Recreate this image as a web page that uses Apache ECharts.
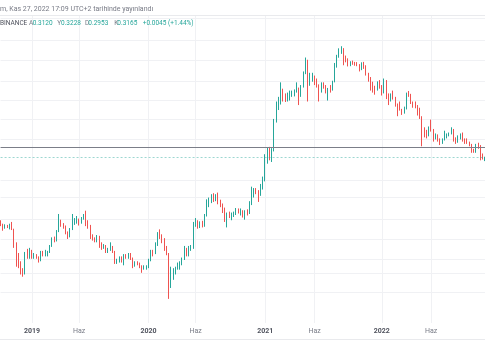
<!DOCTYPE html>
<html><head><meta charset="utf-8">
<script src="https://cdn.jsdelivr.net/npm/echarts/dist/echarts.min.js"></script>
<style>html,body{margin:0;padding:0;background:#fff}#c{width:485px;height:360px}</style>
</head><body><div id="c"></div>
<script>
// Weekly ADA/USDT (Binance) candles, [open, high, low, close], weeks starting Monday
const firstWeek = '2018-10-01';
const ohlc2018 = [
[0.085,0.088,0.078,0.080],[0.080,0.082,0.071,0.076],[0.076,0.081,0.074,0.078],[0.078,0.080,0.075,0.076],
[0.076,0.082,0.073,0.080],[0.080,0.085,0.072,0.073],[0.073,0.074,0.050,0.054],[0.054,0.056,0.034,0.040],
[0.040,0.045,0.033,0.036],[0.036,0.038,0.029,0.031],[0.031,0.033,0.0277,0.030],[0.030,0.046,0.029,0.043],
[0.043,0.049,0.040,0.041],[0.041,0.050,0.040,0.047]
];
const ohlc2019 = [
[0.047,0.048,0.040,0.042],[0.042,0.045,0.040,0.043],[0.043,0.044,0.040,0.041],[0.041,0.042,0.037,0.039],
[0.039,0.047,0.038,0.046],[0.046,0.047,0.042,0.043],[0.043,0.048,0.042,0.044],[0.044,0.047,0.042,0.046],
[0.046,0.053,0.045,0.052],[0.052,0.062,0.051,0.060],[0.060,0.063,0.056,0.058],[0.058,0.072,0.057,0.070],
[0.070,0.100,0.069,0.086],[0.086,0.089,0.077,0.080],[0.080,0.083,0.074,0.077],[0.077,0.079,0.066,0.068],
[0.068,0.070,0.060,0.064],[0.064,0.075,0.062,0.073],[0.073,0.100,0.072,0.085],[0.085,0.092,0.080,0.087],
[0.087,0.096,0.082,0.089],[0.089,0.091,0.079,0.084],[0.084,0.094,0.082,0.092],[0.092,0.100,0.089,0.097],
[0.097,0.107,0.078,0.084],[0.084,0.088,0.074,0.078],[0.078,0.080,0.060,0.063],[0.063,0.066,0.058,0.060],
[0.060,0.062,0.056,0.058],[0.058,0.065,0.056,0.062],[0.062,0.064,0.050,0.055],[0.055,0.056,0.048,0.051],
[0.051,0.054,0.049,0.052],[0.052,0.053,0.045,0.046],[0.046,0.050,0.045,0.049],[0.049,0.056,0.047,0.050],
[0.050,0.052,0.045,0.046],[0.046,0.047,0.036,0.038],[0.038,0.040,0.036,0.039],[0.039,0.042,0.037,0.041],
[0.041,0.042,0.037,0.038],[0.038,0.044,0.035,0.042],[0.042,0.044,0.040,0.041],[0.041,0.045,0.040,0.044],
[0.044,0.045,0.039,0.040],[0.040,0.041,0.033,0.035],[0.035,0.038,0.034,0.037],[0.037,0.038,0.035,0.036],
[0.036,0.037,0.033,0.034],[0.034,0.035,0.030,0.033],[0.033,0.035,0.032,0.033],[0.033,0.035,0.032,0.034]
];
const ohlc2020 = [
[0.034,0.040,0.033,0.039],[0.039,0.048,0.038,0.046],[0.046,0.048,0.042,0.045],[0.045,0.056,0.044,0.054],
[0.054,0.069,0.052,0.068],[0.068,0.073,0.060,0.063],[0.063,0.066,0.055,0.060],[0.060,0.061,0.047,0.050],
[0.050,0.052,0.043,0.044],[0.044,0.045,0.0176,0.026],[0.026,0.034,0.022,0.030],[0.030,0.033,0.026,0.031],
[0.031,0.034,0.029,0.033],[0.033,0.037,0.032,0.034],[0.034,0.038,0.032,0.037],[0.037,0.041,0.035,0.040],
[0.040,0.052,0.039,0.047],[0.047,0.050,0.042,0.045],[0.045,0.052,0.042,0.049],[0.049,0.053,0.047,0.050],
[0.050,0.085,0.049,0.081],[0.081,0.092,0.077,0.086],[0.086,0.088,0.074,0.078],[0.078,0.086,0.075,0.083],
[0.083,0.087,0.076,0.078],[0.078,0.100,0.077,0.096],[0.096,0.135,0.095,0.127],[0.127,0.140,0.115,0.128],
[0.128,0.150,0.125,0.143],[0.143,0.153,0.128,0.135],[0.135,0.150,0.130,0.146],[0.146,0.155,0.122,0.128],
[0.128,0.134,0.115,0.118],[0.118,0.124,0.102,0.108],[0.108,0.114,0.085,0.096],[0.096,0.103,0.076,0.099],
[0.099,0.105,0.092,0.094],[0.094,0.103,0.088,0.100],[0.100,0.105,0.094,0.101],[0.101,0.113,0.098,0.110],
[0.110,0.112,0.101,0.104],[0.104,0.112,0.097,0.106],[0.106,0.108,0.093,0.098],[0.098,0.108,0.089,0.105],
[0.105,0.110,0.097,0.101],[0.101,0.130,0.100,0.124],[0.124,0.175,0.120,0.150],[0.150,0.170,0.140,0.165],
[0.165,0.170,0.150,0.158],[0.158,0.163,0.128,0.155],[0.155,0.185,0.145,0.180],[0.180,0.215,0.165,0.205]
];
const ohlc2021 = [
[0.205,0.340,0.195,0.310],[0.310,0.390,0.280,0.370],[0.370,0.395,0.300,0.335],[0.335,0.385,0.290,0.370],
[0.370,0.700,0.360,0.660],[0.660,1.000,0.650,0.950],[0.950,1.100,0.840,1.050],[1.050,1.480,0.940,1.250],
[1.250,1.300,1.000,1.100],[1.100,1.180,0.990,1.080],[1.080,1.200,1.000,1.150],[1.150,1.250,1.020,1.160],
[1.160,1.250,1.100,1.190],[1.190,1.280,1.110,1.230],[1.230,1.480,1.200,1.300],[1.300,1.330,0.930,1.150],
[1.150,1.400,1.100,1.360],[1.360,1.850,1.330,1.800],[1.800,2.460,1.750,2.300],[2.300,2.350,1.000,1.460],
[1.460,1.800,1.380,1.600],[1.600,1.800,1.500,1.650],[1.650,1.700,1.400,1.480],[1.480,1.600,1.330,1.350],
[1.350,1.420,1.000,1.300],[1.300,1.480,1.200,1.420],[1.420,1.480,1.300,1.330],[1.330,1.400,1.180,1.200],
[1.200,1.320,1.020,1.300],[1.300,1.400,1.200,1.280],[1.280,1.530,1.250,1.500],[1.500,2.200,1.480,2.150],
[2.150,2.600,2.000,2.550],[2.550,2.970,2.450,2.800],[2.800,3.100,2.650,2.870],[2.870,2.980,2.100,2.480],
[2.480,2.560,2.230,2.330],[2.330,2.420,2.050,2.200],[2.200,2.280,2.060,2.220],[2.220,2.310,2.120,2.180],
[2.180,2.250,2.080,2.150],[2.150,2.240,2.060,2.090],[2.090,2.150,1.850,1.980],[1.980,2.230,1.900,2.140],
[2.140,2.250,1.950,2.040],[2.040,2.100,1.700,1.760],[1.760,1.800,1.500,1.580],[1.580,1.650,1.250,1.400],
[1.400,1.500,1.200,1.300],[1.300,1.380,1.150,1.260],[1.260,1.510,1.250,1.460],[1.460,1.550,1.300,1.360]
];
const ohlc2022 = [
[1.360,1.400,1.130,1.240],[1.240,1.600,1.180,1.460],[1.460,1.550,1.050,1.150],[1.150,1.180,0.930,1.050],
[1.050,1.180,1.000,1.150],[1.150,1.250,1.040,1.060],[1.060,1.100,0.900,0.950],[0.950,0.960,0.740,0.890],
[0.890,1.000,0.830,0.840],[0.840,0.860,0.760,0.790],[0.790,0.900,0.780,0.880],[0.880,1.200,0.850,1.150],
[1.150,1.240,1.100,1.140],[1.140,1.170,0.950,0.980],[0.980,1.000,0.880,0.930],[0.930,1.000,0.870,0.890],
[0.890,0.930,0.750,0.780],[0.780,0.880,0.700,0.730],[0.730,0.740,0.400,0.530],[0.530,0.590,0.480,0.510],
[0.510,0.560,0.470,0.500],[0.500,0.600,0.490,0.580],[0.580,0.690,0.540,0.560],[0.560,0.570,0.440,0.480],
[0.480,0.520,0.460,0.490],[0.490,0.510,0.440,0.450],[0.450,0.470,0.410,0.430],[0.430,0.470,0.420,0.460],
[0.460,0.550,0.450,0.500],[0.500,0.520,0.470,0.510],[0.510,0.530,0.490,0.520],[0.520,0.590,0.510,0.560],
[0.560,0.570,0.440,0.460],[0.460,0.480,0.420,0.450],[0.450,0.500,0.430,0.490],[0.490,0.520,0.460,0.510],
[0.510,0.530,0.440,0.460],[0.460,0.470,0.420,0.440],[0.440,0.470,0.420,0.430],[0.430,0.440,0.400,0.410],
[0.410,0.420,0.350,0.370],[0.370,0.380,0.350,0.360],[0.360,0.420,0.350,0.410],[0.410,0.430,0.380,0.390],
[0.390,0.410,0.300,0.340],[0.340,0.345,0.305,0.312],[0.3120,0.3228,0.2953,0.3165]
];
const tickLabels = [
['2019-01-07','2019'],['2019-06-03','Haz'],['2020-01-06','2020'],['2020-06-01','Haz'],
['2021-01-04','2021'],['2021-06-07','Haz'],['2022-01-03','2022'],['2022-06-06','Haz']
];
const gridPrices = [5.49,3.52,2.305,1.50,1.031,0.685,0.455,0.2005,0.138,0.0897,0.0596,0.0398,0.0277,0.0187,0.0131];
const lastPrice = 0.3165;
const levelLine = 0.386;
const headerLine1 = 'm, Kas 27, 2022 17:09 UTC+2 tarihinde yayınlandı';
// legend row: [text, colour key, x]
const legendRow = [
['BINANCE','e',0],['A','k',29],['0.3120','v',32.7],['Y','k',57.3],['0.3228','v',61],
['D','k',85],['0.2953','v',88.3],['K','k',114.3],['0.3165','v',117.3],['+0.0045 (+1.44%)','v',142.7]
];

const ohlc = [].concat(ohlc2018, ohlc2019, ohlc2020, ohlc2021, ohlc2022);
const weeks = [];
(function(){
  const p = firstWeek.split('-').map(Number);
  let t = Date.UTC(p[0], p[1]-1, p[2]);
  for (let i = 0; i < ohlc.length; i++) {
    const d = new Date(t);
    weeks.push(d.getUTCFullYear()+'-'+String(d.getUTCMonth()+1).padStart(2,'0')+'-'+String(d.getUTCDate()).padStart(2,'0'));
    t += 7*86400000;
  }
})();
const labelMap = {};
tickLabels.forEach(function(a){ labelMap[a[0]] = a[1]; });
const candles = ohlc.map(function(r){ return [r[0], r[3], r[2], r[1]]; });
const isTick = function(i, v){ return labelMap[v] !== undefined; };

const up = '#26a69a', down = '#ef5350';
const legendColors = {e:'#50535e', k:'#787b86', v:'#26a69a'};
const graphics = [
  {type:'line', z:10, silent:true, shape:{x1:0, y1:15.5, x2:485, y2:15.5}, style:{stroke:'#e9eaed', lineWidth:1}},
  {type:'line', z:10, silent:true, shape:{x1:0, y1:339.5, x2:485, y2:339.5}, style:{stroke:'#e9eaed', lineWidth:1}},
  {type:'text', z:10, silent:true, x:0, y:8.8,
    style:{text:headerLine1, fill:'#787b86', font:'7px Roboto', verticalAlign:'middle', align:'left'}}
];
legendRow.forEach(function(s){
  graphics.push({type:'text', z:10, silent:true, x:s[2], y:23.8,
    style:{text:s[0], fill:legendColors[s[1]], font:'6.5px Roboto', verticalAlign:'middle', align:'left'}});
});

const chart = echarts.init(document.getElementById('c'), null, {renderer:'canvas'});
chart.setOption({
  animation:false,
  backgroundColor:'#ffffff',
  grid:{left:0.57, top:15, width:485, bottom:37, containLabel:false},
  xAxis:{
    type:'category', data:weeks, boundaryGap:false,
    axisLine:{show:false}, axisTick:{show:false},
    axisLabel:{
      interval:isTick, margin:5, hideOverlap:false,
      formatter:function(v){ const s = labelMap[v]; if (s===undefined) return ''; return /^\d/.test(s) ? '{y|'+s+'}' : '{m|'+s+'}'; },
      rich:{
        y:{fontFamily:'Roboto', fontSize:7, fontWeight:'bold', color:'#50535e'},
        m:{fontFamily:'Roboto', fontSize:7, color:'#787b86'}
      }
    },
    splitLine:{show:true, interval:isTick, lineStyle:{color:'#f0f1f4', width:1}}
  },
  yAxis:{
    type:'log', logBase:10, min:0.010742, max:5.874,
    axisLine:{show:false}, axisTick:{show:false}, axisLabel:{show:false}, splitLine:{show:false}
  },
  series:[
    {
      type:'line', data:[], silent:true,
      markLine:{
        z:1, silent:true, symbol:['none','none'], label:{show:false}, animation:false,
        lineStyle:{color:'#f0f1f4', type:'solid', width:1},
        data:gridPrices.map(function(v){ return {yAxis:v}; })
      }
    },
    {
      type:'candlestick', data:candles, barWidth:1, clip:false, z:3,
      itemStyle:{color:up, color0:down, borderColor:up, borderColor0:down, borderWidth:1},
      markLine:{
        z:4, silent:true, symbol:['none','none'], label:{show:false}, animation:false,
        data:[
          {yAxis:levelLine, lineStyle:{color:'#7b7e88', width:1, type:'solid'}},
          {yAxis:lastPrice, lineStyle:{color:'rgba(38,166,154,0.45)', width:1, type:[2,2]}}
        ]
      }
    }
  ],
  graphic:graphics
});
</script>
</body></html>
